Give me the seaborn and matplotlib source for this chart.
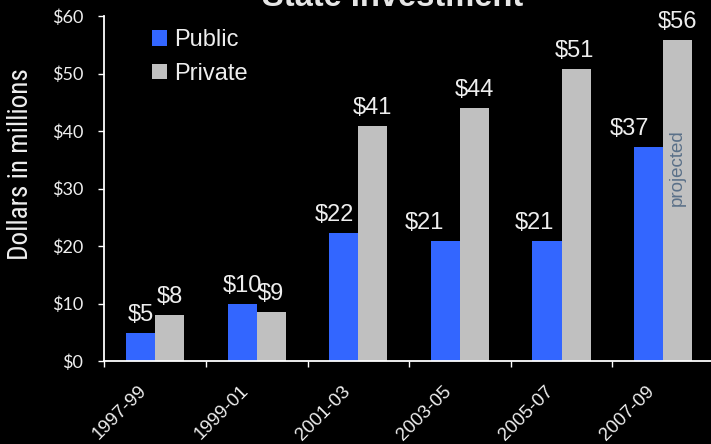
import matplotlib
matplotlib.use("Agg")
import matplotlib.pyplot as plt
import matplotlib.transforms as mtransforms
from matplotlib import font_manager
from matplotlib.patches import Patch
import seaborn as sns
import pandas as pd

# ---- data ----
periods = ["1997-99", "1999-01", "2001-03", "2003-05", "2005-07", "2007-09"]
public = [4.95, 10.0, 22.2, 20.9, 20.9, 37.2]
private = [8.0, 8.6, 40.9, 44.0, 50.8, 55.8]
series_names = ["Public", "Private"]
yticks = [0, 10, 20, 30, 40, 50, 60]
title_text = "State Investment"
ylabel_text = "Dollars in millions"
note_text = "projected"

df = pd.DataFrame({
    "period": periods * 2,
    "value": public + private,
    "sector": [series_names[0]] * len(periods) + [series_names[1]] * len(periods),
})

available = {f.name for f in font_manager.fontManager.ttflist}
def pick(*names):
    for n in names:
        if n in available:
            return n
    return "DejaVu Sans"

SANS = pick("Liberation Sans", "Arimo", "DejaVu Sans")
NARROW = pick("Liberation Sans Narrow", "Roboto Condensed", "DejaVu Sans Condensed", SANS)
GEO = pick("Lato", "Open Sans", SANS)

BLUE = "#3366ff"
GRAY = "#c0c0c0"
FG = "#eeeeee"

sns.set_theme(style="dark")
plt.rcParams["font.family"] = [SANS, "DejaVu Sans"]

W, H, DPI = 711, 444, 100
fig = plt.figure(figsize=(W / DPI, H / DPI), dpi=DPI, facecolor="black")
ax = fig.add_axes([104.3 / W, (H - 361) / H, 609.6 / W, 345 / H])
ax.set_facecolor("black")

sns.barplot(data=df, x="period", y="value", hue="sector", order=periods,
            hue_order=series_names, palette=[BLUE, GRAY], width=0.573,
            dodge=True, gap=0, saturation=1, ax=ax, legend=False,
            errorbar=None, linewidth=0)

ax.set_xlim(-0.5, len(periods) - 0.5)
ax.set_ylim(0, 60)
ax.grid(False)
for s in ["top", "right"]:
    ax.spines[s].set_visible(False)
for s in ["left", "bottom"]:
    ax.spines[s].set_color("white")
    ax.spines[s].set_linewidth(1.3)

# y ticks
ax.set_yticks(yticks)
ax.set_yticklabels([f"${v}" for v in yticks], fontfamily=GEO, fontsize=13, color=FG)
ax.tick_params(axis="y", which="major", direction="out", length=4.3, width=1,
               color="white", pad=11, left=True)

# x ticks: labels at centers, tick marks at boundaries
ax.set_xticks(range(len(periods)))
ax.set_xticklabels(periods, rotation=45, ha="right", va="top",
                   fontsize=13.5, color=FG)
ax.tick_params(axis="x", which="major", length=0, pad=15.5)
ax.set_xticks([i - 0.5 for i in range(len(periods) + 1)], minor=True)
ax.tick_params(axis="x", which="minor", direction="out", length=4.3, width=1,
               color="white", bottom=True)
shift = mtransforms.ScaledTranslation(-5 / DPI, 0, fig.dpi_scale_trans)
for lab in ax.get_xticklabels():
    lab.set_transform(lab.get_transform() + shift)

ax.set_xlabel("")
ax.set_ylabel(ylabel_text, fontfamily=NARROW, fontsize=19.5, color=FG)
ax.yaxis.label.set_va("center")
ax.yaxis.set_label_coords((21 - 104.3) / 609.6, (361 - 164) / 345)

# value labels
label_dx_px = [[0, 0, -9, -21, -13, -19], [0, 0, 0, 0, -2, 0]]
for ci, cont in enumerate(ax.containers):
    vals = public if ci == 0 else private
    for j, patch in enumerate(cont.patches):
        xc = patch.get_x() + patch.get_width() / 2
        ax.annotate(f"${round(vals[j])}", (xc, vals[j]),
                    xytext=(label_dx_px[ci][j] * 0.72, 8.6), textcoords="offset points",
                    ha="center", va="baseline", fontsize=17, color=FG,
                    annotation_clip=False)

# "projected" note inside last private bar
last_priv = ax.containers[1].patches[-1]
ax.text(last_priv.get_x() + last_priv.get_width() / 2, 33.6, note_text,
        rotation=90, ha="center", va="center", fontsize=13.5, color="#5a7088")

# legend
handles = [Patch(facecolor=BLUE, edgecolor="none"), Patch(facecolor=GRAY, edgecolor="none")]
leg = ax.legend(handles, series_names, loc="upper left",
                bbox_to_anchor=(152 / W, (H - 29) / H), bbox_transform=fig.transFigure,
                frameon=False, fontsize=17, handlelength=0.65, handleheight=0.65,
                handletextpad=0.3, labelspacing=0.5, borderpad=0, borderaxespad=0)
for t in leg.get_texts():
    t.set_color(FG)

# title (mostly cut off at top)
fig.text(393 / W, 1 - 5.5 / H, title_text, ha="center", va="baseline",
         fontsize=23.5, fontweight="bold", color="#e6e6e6")

fig.savefig("out.png", dpi=DPI, facecolor="black")
